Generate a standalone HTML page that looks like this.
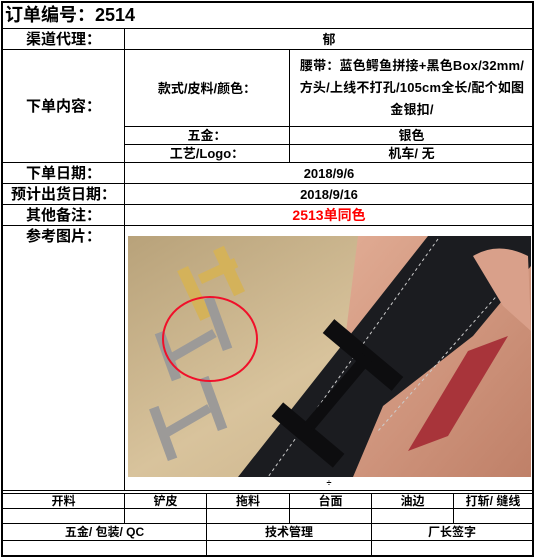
<!DOCTYPE html>
<html><head><meta charset="utf-8"><style>
body{margin:0;width:536px;height:559px;background:#fff;position:relative;overflow:hidden;font-family:"Liberation Sans","Noto Sans CJK SC",sans-serif;color:#000}
.h,.v{position:absolute;background:#000}
.t{position:absolute;display:flex;align-items:center;justify-content:center;text-align:center;font-size:13px;font-weight:bold;line-height:17px}
.b{font-size:15px}
</style></head><body>
<div class="h" style="left:1px;top:1px;width:533px;height:2px"></div>
<div class="v" style="left:1px;top:1px;width:2px;height:556px"></div>
<div class="v" style="left:532px;top:1px;width:2px;height:556px"></div>
<div class="h" style="left:1px;top:555px;width:533px;height:2px"></div>
<div class="h" style="left:1px;top:28px;width:533px;height:1px"></div>
<div class="h" style="left:1px;top:49px;width:533px;height:1px"></div>
<div class="h" style="left:125px;top:126px;width:409px;height:1px"></div>
<div class="h" style="left:125px;top:144px;width:409px;height:1px"></div>
<div class="h" style="left:1px;top:162px;width:533px;height:1px"></div>
<div class="h" style="left:1px;top:183px;width:533px;height:1px"></div>
<div class="h" style="left:1px;top:204px;width:533px;height:1px"></div>
<div class="h" style="left:1px;top:225px;width:533px;height:1px"></div>
<div class="h" style="left:1px;top:490px;width:533px;height:1px"></div>
<div class="h" style="left:1px;top:493px;width:533px;height:1px"></div>
<div class="h" style="left:1px;top:508px;width:533px;height:1px"></div>
<div class="h" style="left:1px;top:523px;width:533px;height:1px"></div>
<div class="h" style="left:1px;top:540px;width:533px;height:1px"></div>
<div class="v" style="left:124px;top:28px;width:1px;height:462px"></div>
<div class="v" style="left:289px;top:49px;width:1px;height:114px"></div>
<div class="v" style="left:124px;top:493px;width:1px;height:30px"></div>
<div class="v" style="left:206px;top:493px;width:1px;height:62px"></div>
<div class="v" style="left:289px;top:493px;width:1px;height:30px"></div>
<div class="v" style="left:371px;top:493px;width:1px;height:62px"></div>
<div class="v" style="left:453px;top:493px;width:1px;height:30px"></div>
<div class="t" style="left:5px;top:3px;height:25px;font-size:18px;justify-content:flex-start">订单编号：2514</div>
<div class="t b" style="left:3px;top:29px;width:121px;height:20px">渠道代理：</div>
<div class="t" style="left:125px;top:29px;width:408px;height:20px">郁</div>
<div class="t b" style="left:3px;top:50px;width:121px;height:112px">下单内容：</div>
<div class="t" style="left:125px;top:50px;width:164px;height:76px">款式/皮料/颜色：</div>
<div class="t" style="left:294px;top:50px;width:236px;height:76px;font-size:13px;line-height:22px;letter-spacing:0.2px">腰带：蓝色鳄鱼拼接+黑色Box/32mm/方头/上线不打孔/105cm全长/配个如图金银扣/</div>
<div class="t" style="left:125px;top:127px;width:164px;height:17px">五金：</div>
<div class="t" style="left:290px;top:127px;width:243px;height:17px">银色</div>
<div class="t" style="left:125px;top:145px;width:164px;height:17px">工艺/Logo：</div>
<div class="t" style="left:290px;top:145px;width:243px;height:17px">机车/ 无</div>
<div class="t b" style="left:3px;top:163px;width:121px;height:20px">下单日期：</div>
<div class="t" style="left:125px;top:163px;width:408px;height:20px">2018/9/6</div>
<div class="t b" style="left:3px;top:184px;width:121px;height:20px">预计出货日期：</div>
<div class="t" style="left:125px;top:184px;width:408px;height:20px">2018/9/16</div>
<div class="t b" style="left:3px;top:205px;width:121px;height:20px">其他备注：</div>
<div class="t" style="left:125px;top:205px;width:408px;height:20px;color:#f00;font-size:14px">2513单同色</div>
<div class="t b" style="left:3px;top:226px;width:121px;height:20px">参考图片：</div>
<div class="t" style="left:125px;top:477px;width:408px;height:12px;font-size:9px">÷</div>
<svg style="position:absolute;left:128px;top:236px" width="403" height="241" viewBox="0 0 403 241">
<defs><linearGradient id="bg" x1="0" y1="0" x2="1" y2="1"><stop offset="0" stop-color="#b8a27a"/><stop offset=".5" stop-color="#d8c39c"/><stop offset="1" stop-color="#c8ad85"/></linearGradient>
<linearGradient id="sk" x1="0" y1="0" x2="1" y2="1"><stop offset="0" stop-color="#e2ad95"/><stop offset="1" stop-color="#bf8068"/></linearGradient></defs>
<rect width="403" height="241" fill="url(#bg)"/>
<path d="M230 0 L403 0 L403 241 L200 241 Z" fill="url(#sk)"/>
<path d="M340 115 L380 100 L320 200 L280 215 Z" fill="#a8343a"/>
<path d="M300 0 L403 0 L403 30 L345 100 L255 170 L225 241 L110 241 Z" fill="#1b1c20"/>
<path d="M310 3 L140 241" stroke="#ccc" stroke-width="1" stroke-dasharray="3 3"/>
<path d="M395 30 L250 195" stroke="#ccc" stroke-width="1" stroke-dasharray="3 3"/>
<path d="M345 20 Q370 5 400 20 L403 95 L375 70 Z" fill="#d9a08a"/>
<g fill="#0d0d0f"><rect x="190" y="110" width="90" height="18" transform="rotate(40 235 119)"/><rect x="140" y="190" width="80" height="18" transform="rotate(40 180 199)"/><rect x="165" y="150" width="90" height="12" transform="rotate(-50 210 156)"/></g>
<g fill="#d4b25a"><rect x="60" y="30" width="12" height="55" transform="rotate(-25 66 57)"/><rect x="95" y="10" width="12" height="50" transform="rotate(-25 101 35)"/><rect x="70" y="30" width="40" height="10" transform="rotate(-25 90 35)"/></g>
<g fill="#9c9a98"><rect x="35" y="95" width="10" height="50" transform="rotate(-20 40 120)"/><rect x="85" y="60" width="10" height="55" transform="rotate(-20 90 87)"/><rect x="40" y="105" width="50" height="9" transform="rotate(-30 65 110)"/>
<rect x="30" y="170" width="10" height="55" transform="rotate(-20 35 197)"/><rect x="80" y="140" width="10" height="55" transform="rotate(-20 85 167)"/><rect x="35" y="180" width="50" height="9" transform="rotate(-30 60 185)"/></g>
<ellipse cx="82" cy="103" rx="47" ry="42" fill="none" stroke="#f0102a" stroke-width="2"/>
</svg>
<div class="t" style="left:3px;top:494px;width:121px;height:14px;font-size:12px">开料</div>
<div class="t" style="left:125px;top:494px;width:81px;height:14px;font-size:12px">铲皮</div>
<div class="t" style="left:207px;top:494px;width:82px;height:14px;font-size:12px">拖料</div>
<div class="t" style="left:290px;top:494px;width:81px;height:14px;font-size:12px">台面</div>
<div class="t" style="left:372px;top:494px;width:81px;height:14px;font-size:12px">油边</div>
<div class="t" style="left:454px;top:494px;width:78px;height:14px;font-size:12px">打斩/ 缝线</div>
<div class="t" style="left:3px;top:524px;width:203px;height:16px;font-size:12px">五金/ 包装/ QC</div>
<div class="t" style="left:207px;top:524px;width:164px;height:16px;font-size:12px">技术管理</div>
<div class="t" style="left:372px;top:524px;width:160px;height:16px;font-size:12px">厂长签字</div>
</body></html>
